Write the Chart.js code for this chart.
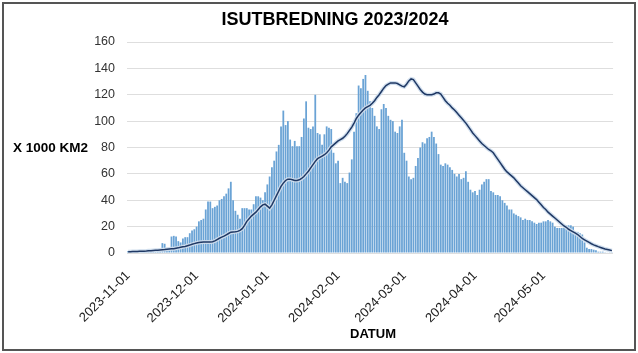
<!DOCTYPE html>
<html>
<head>
<meta charset="utf-8">
<script src="https://cdn.jsdelivr.net/npm/chart.js@4"></script>
<style>
  html, body { margin: 0; padding: 0; background: #fff; }
  #wrap { width: 638px; height: 353px; position: relative; }
</style>
</head>
<body>
<div id="wrap"><canvas id="c" width="638" height="353"></canvas></div>
<script>
const chartTitle = "ISUTBREDNING 2023/2024";
const yTitle = "X 1000 KM2";
const xTitle = "DATUM";
const startDate = "2023-11-01";
const dayCount = 213;
const monthTicks = ["2023-11-01","2023-12-01","2024-01-01","2024-02-01","2024-03-01","2024-04-01","2024-05-01"];
const yTicks = [0,20,40,60,80,100,120,140,160];

// daily ice extent (x 1000 km2), 2023-11-01 .. 2024-05-31
const iceExtent = [
  1.5,1.2,1.0,1.0,1.2,1.3,1.3,1.5,1.5,1.8,1.6,2.0,1.8,2.5,2.2,
  7.5,7.0,3.0,3.5,12.5,13,12.5,9,8,11,12,12,15,17,18,
  20,24,25,26,33,39,39,34,35,36,40,41,43,45,49,
  54,40,32,29,26,34,34,34,33,33,37,43,43,42,40,
  46,52,58,65,70,77,82,96,108,97,100,86,81,85,81,
  81,88,102,115,95,94,96,120,91,90,82,90,96,95,94,
  76,68,70,53,57,54,53,61,71,92,106,127,125,132,135,
  123,115,110,104,96,94,109,113,110,104,101,100,92,91,96,
  101,76,70,58,56,57,66,72,80,84,83,87,88,92,88,
  83,75,67,66,68,67,65,63,60,58,60,56,57,62,54,
  48,46,47,44,48,52,54,56,56,47,46,44,44,43,40,
  38,36,33,33,30,29,28,27,25,26,25,25,24,23,22,
  23,23,24,24,25,24,23,20,19,19,19,19,21,21,21,
  20,16,16,15,14,8,4,3,3,2.5,2,1,1,1,0.5,
  0.3,0.2,0.2
];

// reference curve (normal extent)
const normalExtent = [
  1.0,1.0,1.1,1.1,1.2,1.3,1.3,1.4,1.5,1.7,
  1.8,1.9,2.0,2.1,2.3,2.5,2.6,2.8,3.0,3.2,
  3.3,3.6,3.9,4.3,4.7,5.0,5.5,6.0,6.6,7.1,
  7.6,7.9,8.1,8.3,8.4,8.4,8.4,8.5,9.2,10.2,
  11.2,12.0,12.8,13.8,14.8,15.8,16.0,16.1,16.4,17.2,
  18.5,21.0,24.0,26.0,28.0,29.5,31.0,33.0,35.0,36.5,
  37.0,35.5,34.0,36.5,40.0,43.5,47.0,50.5,53.0,55.0,
  56.0,56.0,55.5,55.0,55.0,55.5,56.5,58.0,60.0,62.0,
  64.5,67.0,69.5,71.5,72.5,73.5,74.5,76.0,78.0,80.5,
  82.0,83.5,85.0,86.0,87.0,88.5,90.5,93.0,95.5,98.5,
  102.0,104.5,106.5,108.5,110.0,111.0,112.0,113.5,115.5,118.0,
  120.0,122.5,125.0,127.0,128.0,129.0,129.0,129.0,128.5,127.5,
  126.5,126.0,128.0,130.5,132.0,131.5,129.0,126.5,124.0,122.0,
  120.5,120.0,120.0,120.0,120.5,121.5,121.5,120.5,118.0,115.5,
  113.5,112.0,110.0,108.5,106.5,104.5,102.5,100.5,98.5,96.0,
  93.5,91.0,89.0,87.0,85.0,83.0,81.5,80.0,78.5,77.5,
  76.0,73.5,71.0,68.5,66.0,63.5,61.5,60.0,58.5,57.0,
  55.0,53.0,51.0,49.5,48.0,46.5,45.0,43.5,42.0,40.5,
  38.5,36.5,34.5,33.0,31.0,29.5,28.0,26.5,25.0,23.5,
  22.0,20.5,19.5,18.0,17.0,16.0,15.0,14.0,12.5,11.0,
  10.0,9.0,8.0,7.0,6.2,5.5,4.8,4.2,3.6,3.0,2.6,2.2,1.8
];

// category labels: one per day
const categories = [];
(function(){
  const d0 = new Date(startDate + "T00:00:00Z");
  for (let i = 0; i < dayCount; i++) {
    const d = new Date(d0.getTime() + i * 86400000);
    categories.push(d.toISOString().slice(0, 10));
  }
})();

const FONT = "'Liberation Sans', Arial, sans-serif";

const decorPlugin = {
  id: 'decor',
  beforeDraw(chart) {
    const ctx = chart.ctx;
    ctx.save();
    ctx.fillStyle = '#ffffff';
    ctx.fillRect(0, 0, chart.width, chart.height);
    ctx.restore();
  },
  afterDraw(chart) {
    const ctx = chart.ctx;
    ctx.save();
    ctx.strokeStyle = '#555555';
    ctx.lineWidth = 2;
    ctx.strokeRect(3, 3, 632, 347);
    ctx.fillStyle = '#000000';
    ctx.textAlign = 'center';
    ctx.textBaseline = 'middle';
    ctx.font = "bold 18px " + FONT;
    ctx.fillText(chartTitle, 335, 20);
    ctx.font = "bold 13px " + FONT;
    ctx.fillText(xTitle, 373, 334);
    ctx.textAlign = 'left';
    ctx.font = "bold 13.5px " + FONT;
    ctx.fillText(yTitle, 13, 148);
    ctx.restore();
  }
};

new Chart(document.getElementById('c'), {
  type: 'bar',
  data: {
    labels: categories,
    datasets: [
      {
        type: 'line', data: normalExtent, borderColor: '#1f3864', borderWidth: 1.5,
        pointRadius: 0, tension: 0, order: 1
      },
      {
        type: 'line', data: normalExtent, borderColor: 'rgba(205,220,236,0.95)', borderWidth: 4,
        pointRadius: 0, tension: 0, order: 2
      },
      {
        type: 'bar', data: iceExtent, backgroundColor: '#6aa3d5', borderWidth: 0,
        barPercentage: 0.78, categoryPercentage: 1.0, order: 3
      }
    ]
  },
  options: {
    responsive: false,
    animation: false,
    devicePixelRatio: 1,
    layout: { padding: { top: 42, right: 20, left: 0, bottom: 0 } },
    plugins: { legend: { display: false }, tooltip: { enabled: false }, title: { display: false } },
    scales: {
      x: {
        offset: true,
        grid: { display: false, drawTicks: false },
        border: { display: false },
        afterFit(s) { s.height = 100; },
        ticks: {
          autoSkip: false, maxRotation: 45, minRotation: 45, padding: 15,
          color: '#222222', font: { family: FONT, size: 13 },
          callback(v, i) { const l = categories[i]; return monthTicks.includes(l) ? l : ''; }
        }
      },
      y: {
        min: 0, max: 160,
        afterFit(s) { s.width = 127; },
        afterBuildTicks(s) { s.ticks = yTicks.map(v => ({ value: v })); },
        grid: { color: '#dedede', lineWidth: 1, drawTicks: false },
        border: { display: false },
        ticks: { padding: 12, color: '#333333', font: { family: FONT, size: 12.5 } }
      }
    }
  },
  plugins: [decorPlugin]
});
</script>
</body>
</html>
